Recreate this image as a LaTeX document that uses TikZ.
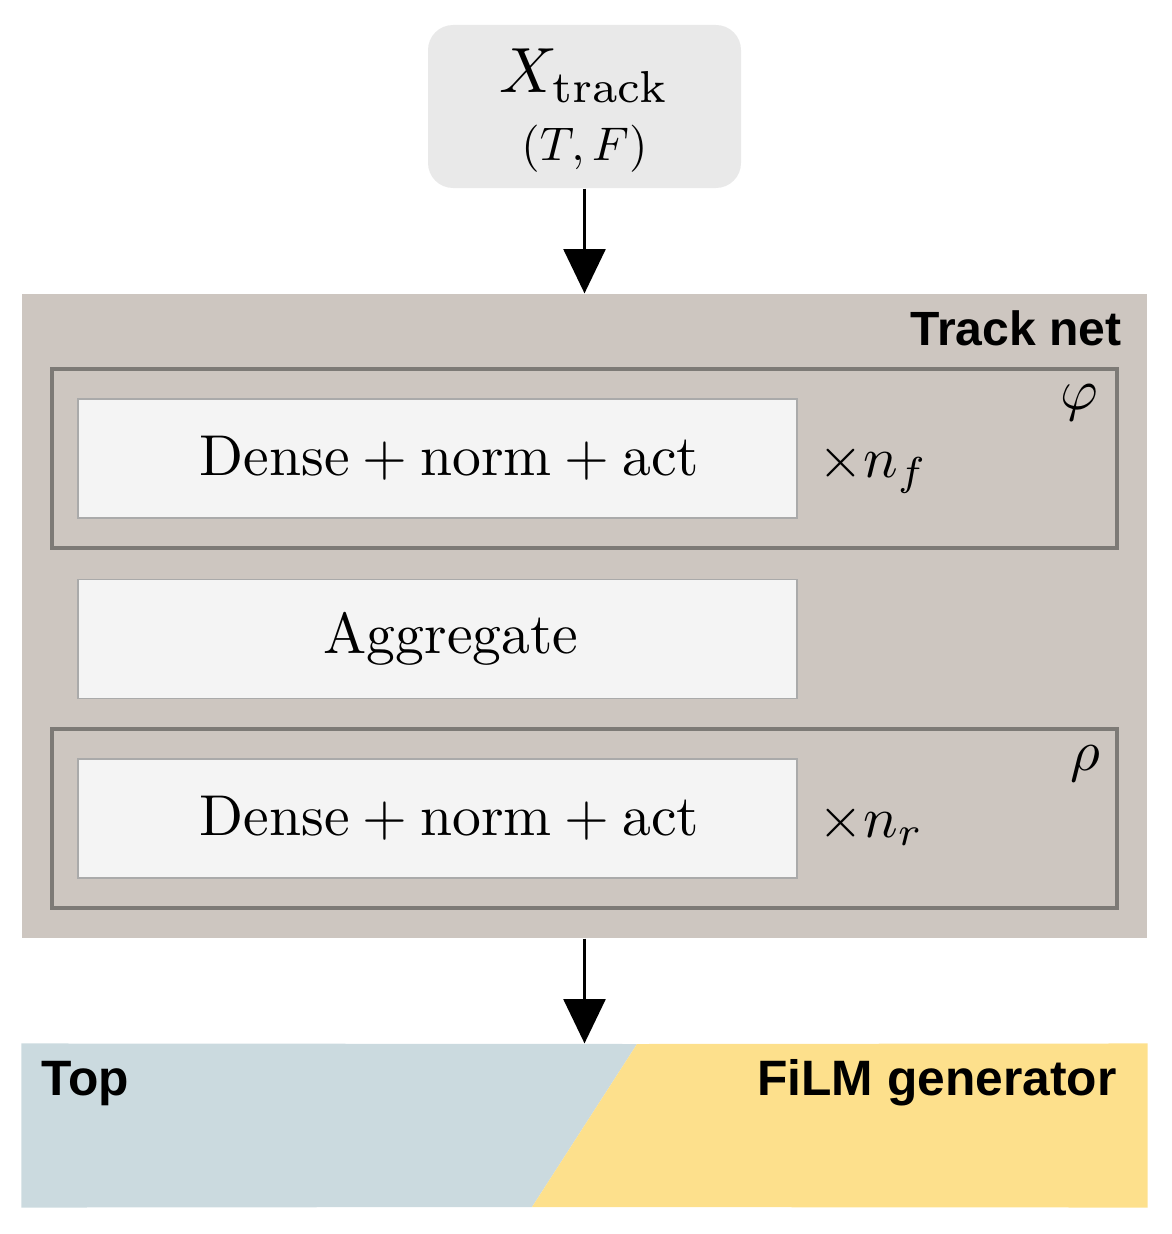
\documentclass[tikz,border=0pt]{standalone}
\usepackage{amsmath}
\usepackage{fontspec}
\newfontfamily\labelfont{Liberation Sans}
\usetikzlibrary{arrows.meta,positioning}
\definecolor{netbg}{RGB}{205,198,192}
\definecolor{inbg}{RGB}{233,233,233}
\definecolor{layerbg}{RGB}{244,244,244}
\definecolor{layerline}{RGB}{170,170,170}
\definecolor{groupline}{RGB}{125,122,118}
\definecolor{topcolor}{RGB}{203,218,223}
\definecolor{filmcolor}{RGB}{253,224,140}
\newcommand{\px}{0.36pt}
\newcommand{\enlarge}[1]{\scalebox{2.075}{#1}}
\tikzset{
  inputbox/.style={fill=inbg,rounded corners=9pt,minimum width={313*\px},minimum height={163*\px},inner sep=0pt},
  netbox/.style={fill=netbg,minimum width={1125*\px},minimum height={644*\px},inner sep=0pt},
  layer/.style={draw=layerline,line width=0.4pt,fill=layerbg,minimum width={719*\px},minimum height={119*\px},inner sep=0pt},
  group/.style={draw=groupline,line width=1.1pt,minimum width={1065*\px},minimum height={179*\px},inner sep=0pt},
  headbox/.style={minimum width={1125*\px},minimum height={163*\px},inner sep=0pt},
  flow/.style={-{Triangle[length=16pt,width=15pt]},line width=1.4pt},
  title/.style={font=\labelfont\bfseries\fontsize{17.3}{20}\selectfont,inner sep=0pt},
  headtitle/.style={title,font=\labelfont\bfseries\fontsize{17.9}{20}\selectfont},
  plain/.style={inner sep=0pt},
}
\begin{document}
\begin{tikzpicture}[x=\px,y=-\px]
\useasboundingbox (0,0) rectangle (1171,1234);
% input
\node[inputbox] (input) at (584.5,106.5) {};
\node[plain,anchor=base] (xtrack) at (584.5,93) {\scalebox{2.3}{$X_{\text{track}}$}};
\node[plain,anchor=base] (shape) at (584.5,161) {\scalebox{1.7}{$(T,F)$}};
% track net
\node[netbox] (tracknet) at (584.5,616) {};
\node[title,anchor=base east] (netname) at (1122,345) {Track net};
\node[group] (phi) at (584.5,458.5) {};
\node[layer] (dense1) at (437.5,458.5) {};
\node[plain] (dense1text) at (449.5,458.5) {\enlarge{$\text{Dense} + \text{norm} + \text{act}$}};
\node[plain,anchor=base west] (nf) at (818,477) {\enlarge{$\times n_f$}};
\node[plain] (phiname) at (1079,403) {\enlarge{$\varphi$}};
\node[layer] (aggregate) at (437.5,639) {};
\node[plain] (aggregatetext) at (451,639) {\enlarge{Aggregate}};
\node[group] (rho) at (584.5,818.5) {};
\node[layer] (dense2) at (437.5,818.5) {};
\node[plain] (dense2text) at (449.5,818.5) {\enlarge{$\text{Dense} + \text{norm} + \text{act}$}};
\node[plain,anchor=base west] (nr) at (818,837) {\enlarge{$\times n_r$}};
\node[plain] (rhoname) at (1085,764) {\enlarge{$\rho$}};
% heads
\node[headbox] (heads) at (584.5,1125.5) {};
\fill[topcolor] (heads.north west) -- (637,1044) -- (532,1207) -- (heads.south west) -- cycle;
\fill[filmcolor] (637,1044) -- (heads.north east) -- (heads.south east) -- (532,1207) -- cycle;
\node[headtitle,anchor=base west] (topname) at (41,1095) {Top};
\node[headtitle,anchor=base east] (filmname) at (1117,1095) {FiLM generator};
% arrows
\draw[flow] (input) -- (tracknet);
\draw[flow] (tracknet) -- (heads);
\end{tikzpicture}
\end{document}
